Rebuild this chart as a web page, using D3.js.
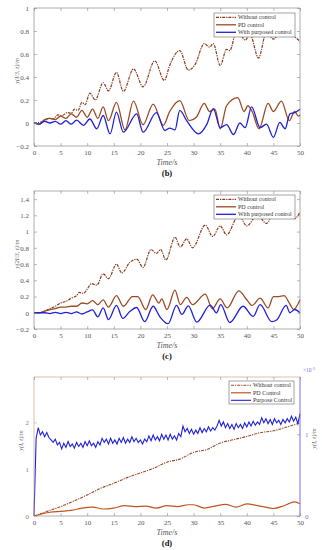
<!DOCTYPE html>
<html>
<head>
<meta charset="utf-8">
<script src="https://cdn.jsdelivr.net/npm/d3@7"></script>
<style>
body { margin: 0; background: #fff; }
text { font-family: "Liberation Serif", "DejaVu Serif", serif; }
</style>
</head>
<body>
<div id="chart"></div>
<script>
"use strict";

var xTicks = [0, 5, 10, 15, 20, 25, 30, 35, 40, 45, 50];

// panel (b)
var bTicksY = [-0.2, 0, 0.2, 0.4, 0.6, 0.8, 1];
var bWithoutT = [0, 1, 2, 2.8, 3.6, 4.5, 5.3, 6.2, 7, 7.6, 8.3, 9, 9.6, 10.5, 11.5, 13, 14, 15.5, 16.8, 18.7, 20.5, 22.7, 24.5, 25.5, 27.4, 29, 30.3, 32, 33, 33.7, 35, 36.2, 36.8, 38.2, 39.7, 40.6, 42.2, 43.7, 45, 46.5, 48, 49, 50];
var bWithoutV = [0, 0.005, 0.02, 0.04, 0.035, 0.07, 0.065, 0.09, 0.085, 0.12, 0.11, 0.18, 0.16, 0.26, 0.2, 0.35, 0.28, 0.44, 0.275, 0.47, 0.315, 0.54, 0.37, 0.5, 0.63, 0.46, 0.51, 0.69, 0.66, 0.69, 0.5, 0.64, 0.63, 0.82, 0.72, 0.77, 0.565, 0.79, 0.73, 0.8, 0.79, 0.75, 0.71];
var bPdT = [0, 1, 2, 3, 4, 5, 6, 7, 8, 9, 10, 11, 12, 13, 14, 15.5, 17.1, 18.7, 20.5, 22.4, 24.3, 25.5, 27.4, 29.2, 30.5, 32, 33, 34, 35, 36.2, 38.3, 39.5, 40.2, 41, 42.3, 44, 45, 46.5, 48, 49, 49.7, 50];
var bPdV = [0, -0.01, 0.03, 0.04, 0.03, 0.06, 0.04, 0.08, 0.05, 0.11, 0.05, 0.12, 0.04, 0.14, 0.02, 0.18, -0.06, 0.19, -0.015, 0.165, -0.02, 0.1, 0.195, 0.02, 0.05, 0.17, 0.1, 0.12, -0.05, 0.15, 0.22, 0.1, 0.15, 0.1, -0.05, 0.17, 0.1, 0.19, 0.02, 0.1, 0.06, 0.07];
var bBlueT = [0, 1, 2, 3, 4, 5, 6, 7, 8, 9.3, 10.5, 11.8, 13, 14.3, 15.5, 16.8, 19.3, 20.5, 23, 24.6, 25.5, 26.5, 27.4, 28.7, 30.9, 32.5, 33.7, 35, 36.2, 37.5, 38.7, 39.7, 40.9, 42.5, 43.7, 45, 46.2, 47.2, 48.1, 49, 50];
var bBlueV = [0, -0.01, 0.015, 0, 0.015, -0.01, 0.02, -0.01, 0.025, -0.02, 0.035, -0.05, 0.065, -0.095, 0.095, -0.08, 0.08, -0.08, 0.09, -0.065, -0.045, -0.06, 0.11, 0.02, -0.095, -0.01, 0.125, -0.04, -0.015, -0.1, 0, -0.04, 0.14, -0.04, -0.01, -0.125, 0.005, -0.05, 0.08, 0.09, 0.12];

// panel (c)
var cTicksY = [-0.2, 0, 0.2, 0.4, 0.6, 0.8, 1, 1.2, 1.4];
var cWithoutT = [0, 1, 2, 3, 4, 5, 6, 7, 8, 8.5, 9.3, 10, 10.8, 11.8, 13, 14, 15.5, 16.5, 18, 19.3, 20.5, 22, 23, 23.8, 24.8, 26.5, 27.5, 28.7, 29.8, 32.2, 33.6, 35, 36.2, 38.5, 40, 42, 43.7, 45, 46.5, 48, 49, 50];
var cWithoutV = [0, 0, 0.02, 0.05, 0.08, 0.12, 0.14, 0.18, 0.21, 0.25, 0.24, 0.29, 0.36, 0.34, 0.48, 0.42, 0.6, 0.49, 0.62, 0.66, 0.56, 0.78, 0.73, 0.78, 0.65, 0.93, 0.81, 0.91, 0.8, 1.08, 0.94, 1.07, 0.96, 1.2, 1.07, 1.2, 1.1, 1.22, 1.2, 1.24, 1.16, 1.24];
var cPdT = [0, 1, 2, 3, 4, 5, 6, 7, 8, 9, 10, 11, 12, 13, 14, 15.5, 16.8, 18.5, 19.5, 21, 22.3, 23.5, 24, 25, 26.5, 27.5, 28.7, 29.8, 32.2, 33.5, 35, 36.3, 38.5, 40, 41, 42.5, 44, 45, 46, 47, 48, 48.8, 50];
var cPdV = [0, 0, 0.02, 0.04, 0.05, 0.07, 0.07, 0.08, 0.08, 0.12, 0.11, 0.15, 0.1, 0.16, 0.07, 0.21, 0.08, 0.2, 0.2, 0.04, 0.22, 0.12, 0.17, 0.04, 0.28, 0.1, 0.19, 0.1, 0.23, 0.05, 0.17, 0.06, 0.27, 0.16, 0.09, 0.18, 0.06, 0.2, 0.2, 0.21, 0.12, 0.04, 0.16];
var cBlueT = [0, 2, 3, 4, 5, 6, 7, 8, 9, 10, 11, 12, 13, 14, 15.5, 16.7, 18, 19.3, 20.8, 22.4, 23.6, 25.2, 26.8, 27.8, 29, 30.6, 33.1, 34.3, 35.1, 36.8, 39.3, 41.2, 42.5, 44.7, 45.6, 47.4, 48.1, 49, 50];
var cBlueV = [0, 0, -0.01, 0.005, -0.01, 0.005, -0.01, 0.01, -0.015, 0.01, 0.035, -0.05, 0.06, -0.085, 0.09, -0.07, 0.015, 0.065, -0.11, 0.08, -0.045, -0.135, 0.09, -0.02, 0.085, -0.115, 0.095, 0, 0.1, -0.12, 0.08, -0.045, 0.1, -0.11, -0.09, 0.09, 0, 0.04, 0];

// panel (d)
var dTicksLeft = [0, 1, 2];
var dTicksRight = [0, 1];
var dWithoutT = [0, 2.5, 5, 7.5, 10, 12.5, 15, 17.5, 20, 22.5, 25, 27.5, 30, 32.5, 35, 37.5, 40, 42.5, 45, 47.5, 50];
var dWithoutV = [0, 0.1, 0.2, 0.32, 0.45, 0.59, 0.7, 0.82, 0.92, 1.02, 1.15, 1.22, 1.36, 1.42, 1.56, 1.63, 1.7, 1.78, 1.82, 1.9, 1.99];
var dPdT = [0, 3, 5, 7, 9, 11, 13, 15, 17, 19, 21, 23, 25, 27, 29, 30, 32, 34, 36, 38, 40, 42, 44, 45, 47, 49, 50];
var dPdV = [0, 0.08, 0.1, 0.12, 0.17, 0.19, 0.15, 0.17, 0.22, 0.2, 0.21, 0.17, 0.22, 0.2, 0.24, 0.24, 0.17, 0.21, 0.25, 0.19, 0.26, 0.22, 0.18, 0.16, 0.22, 0.3, 0.26];
// purpose control, x10^-3 (right axis), sampled every 0.4 s
var dBlueStep = 0.4;
var dBlueV = [0, 0.95, 1.08, 0.99, 1.03, 0.97, 1.02, 0.96, 0.93, 0.90,
  0.94, 0.87, 0.90, 0.82, 0.89, 0.84, 0.91, 0.85, 0.88, 0.83,
  0.90, 0.85, 0.89, 0.84, 0.91, 0.86, 0.92, 0.86, 0.89, 0.84,
  0.91, 0.87, 0.95, 0.90, 0.94, 0.88, 0.95, 0.89, 0.93, 0.88,
  0.95, 0.90, 0.96, 0.89, 0.94, 0.90, 0.97, 0.91, 0.95, 0.90,
  0.93, 0.88, 0.94, 0.91, 0.98, 0.92, 0.99, 0.93, 0.97, 0.92,
  1.00, 0.94, 0.99, 0.93, 1.00, 0.94, 0.98, 0.93, 1.01, 0.97,
  1.10, 1.03, 1.07, 1.01, 1.06, 1.00, 1.05, 1.01, 1.08, 1.02,
  1.07, 1.03, 1.09, 1.04, 1.08, 1.05, 1.10, 1.17, 1.10, 1.15,
  1.08, 1.13, 1.07, 1.12, 1.06, 1.13, 1.08, 1.12, 1.07, 1.14,
  1.09, 1.15, 1.10, 1.16, 1.11, 1.15, 1.12, 1.20, 1.14, 1.19,
  1.13, 1.18, 1.12, 1.19, 1.14, 1.17, 1.12, 1.18, 1.14, 1.19,
  1.15, 1.22, 1.16, 1.21, 1.13, 1.25];

var w = 322, h = 550;
var left = 34, right = 300;

var svg = d3.select("#chart")
            .append("svg")
            .attr("width", w)
            .attr("height", h)
            .style("background", "#fff");

var x = d3.scaleLinear().domain([0, 50]).range([left, right]);

function pairs(ts, vs) {
    return ts.map(function(t, i){ return [t, vs[i]]; });
}

function drawPanel(p) {
    var y = d3.scaleLinear().domain(p.yDomain).range([p.bottom, p.top]);
    var g = svg.append("g");

    // lines
    p.series.forEach(function(s){
        var ys = s.right ? p.yRight : y;
        var line = d3.line()
            .x(function(d){ return x(d[0]); })
            .y(function(d){ return ys(d[1]); })
            .curve(s.smooth ? d3.curveMonotoneX : d3.curveLinear);
        g.append("path")
            .datum(s.data)
            .attr("d", line)
            .attr("fill", "none")
            .attr("stroke", s.color)
            .attr("stroke-width", s.width)
            .attr("stroke-dasharray", s.dash || null);
    });

    // box
    var boxCol = "#8a8a8a";
    g.append("line").attr("x1", left).attr("x2", right).attr("y1", p.bottom).attr("y2", p.bottom)
        .attr("stroke", boxCol).attr("stroke-width", 0.7);
    g.append("line").attr("x1", left).attr("x2", right).attr("y1", p.top).attr("y2", p.top)
        .attr("stroke", p.topColor || boxCol).attr("stroke-width", 0.7);
    g.append("line").attr("x1", left).attr("x2", left).attr("y1", p.top).attr("y2", p.bottom)
        .attr("stroke", p.leftColor || boxCol).attr("stroke-width", 0.7);
    g.append("line").attr("x1", right).attr("x2", right).attr("y1", p.top).attr("y2", p.bottom)
        .attr("stroke", p.rightColor || boxCol).attr("stroke-width", p.rightColor ? 1 : 0.7);

    // x ticks (bottom + top)
    var xb = g.append("g").attr("transform", "translate(0," + p.bottom + ")")
        .call(d3.axisBottom(x).tickValues(xTicks).tickSizeInner(-3).tickSizeOuter(0).tickPadding(4));
    var xt = g.append("g").attr("transform", "translate(0," + p.top + ")")
        .call(d3.axisTop(x).tickValues(xTicks).tickSizeInner(-3).tickSizeOuter(0).tickFormat(""));
    [xb, xt].forEach(function(a){
        a.select(".domain").remove();
        a.selectAll("line").attr("stroke", boxCol).attr("stroke-width", 0.6);
        a.selectAll("text").attr("font-size", 7).attr("fill", "#555")
            .style("font-family", "Liberation Serif, serif");
    });

    // y ticks left
    var yl = g.append("g").attr("transform", "translate(" + left + ",0)")
        .call(d3.axisLeft(y).tickValues(p.yTicks).tickSizeInner(-3).tickSizeOuter(0).tickPadding(5)
            .tickFormat(function(d){ return d3.format("~g")(d); }));
    yl.select(".domain").remove();
    yl.selectAll("line").attr("stroke", p.leftColor || boxCol).attr("stroke-width", 0.6);
    yl.selectAll("text").attr("font-size", 7).attr("fill", p.leftText || "#555")
        .style("font-family", "Liberation Serif, serif");

    if (p.yRight) {
        var yr = g.append("g").attr("transform", "translate(" + right + ",0)")
            .call(d3.axisRight(p.yRight).tickValues(dTicksRight).tickSizeInner(-3).tickSizeOuter(0).tickPadding(5)
                .tickFormat(d3.format("d")));
        yr.select(".domain").remove();
        yr.selectAll("line").attr("stroke", p.rightColor).attr("stroke-width", 0.6);
        yr.selectAll("text").attr("font-size", 7).attr("fill", p.rightColor)
            .style("font-family", "Liberation Serif, serif");
        g.append("text").attr("x", 303).attr("y", p.top - 5)
            .attr("font-size", 5.5).attr("fill", p.rightColor)
            .text("×10").append("tspan").attr("dy", -2.5).attr("font-size", 4.5).text("-3");
        g.append("text")
            .attr("transform", "translate(316," + ((p.top + p.bottom) / 2 - 8) + ") rotate(-90)")
            .attr("text-anchor", "middle").attr("font-size", 6.5).attr("font-style", "italic")
            .attr("fill", "#666").text(p.yLabel);
    } else {
        var yrt = g.append("g").attr("transform", "translate(" + right + ",0)")
            .call(d3.axisRight(y).tickValues(p.yTicks).tickSizeInner(-3).tickSizeOuter(0).tickFormat(""));
        yrt.select(".domain").remove();
        yrt.selectAll("line").attr("stroke", boxCol).attr("stroke-width", 0.6);
    }

    // y label
    g.append("text")
        .attr("transform", "translate(" + p.yLabelX + "," + ((p.top + p.bottom) / 2 - 6) + ") rotate(-90)")
        .attr("text-anchor", "middle").attr("font-size", 6.5).attr("font-style", "italic")
        .attr("fill", "#666").text(p.yLabel);

    // x label and caption
    g.append("text").attr("x", 167).attr("y", p.bottom + 19)
        .attr("text-anchor", "middle").attr("font-size", 8).attr("font-style", "italic")
        .attr("fill", "#555").text("Time/s");
    g.append("text").attr("x", 167).attr("y", p.bottom + 30)
        .attr("text-anchor", "middle").attr("font-size", 8.5).attr("font-weight", "bold")
        .attr("fill", "#111").text(p.caption);

    // legend
    var L = p.legend;
    g.append("rect").attr("x", L.x).attr("y", L.y).attr("width", L.w).attr("height", L.h)
        .attr("fill", "#fff").attr("stroke", "#666").attr("stroke-width", 0.6);
    p.series.forEach(function(s, i){
        var ry = L.y + 4.3 + i * 7.5;
        g.append("line").attr("x1", L.x + 2).attr("x2", L.x + 22).attr("y1", ry).attr("y2", ry)
            .attr("stroke", s.color).attr("stroke-width", s.width)
            .attr("stroke-dasharray", s.dash || null);
        g.append("text").attr("x", L.x + 24).attr("y", ry + 2)
            .attr("font-size", 6).attr("fill", "#333").text(s.name);
    });
}

var brownDash = "#8a3a1c";
var brownPd = "#9c4a24";
var blue = "#2121d6";
var dashDot = "3,1,1.2,1";

drawPanel({
    top: 8, bottom: 146, yDomain: [-0.2, 1], yTicks: bTicksY,
    yLabel: "y(l/3, t)/m", yLabelX: 19, caption: "(b)",
    legend: {x: 214, y: 13, w: 81, h: 24},
    series: [
        {name: "Without control", data: pairs(bWithoutT, bWithoutV), color: brownDash, width: 1.2, dash: dashDot, smooth: true},
        {name: "PD control", data: pairs(bPdT, bPdV), color: brownPd, width: 1.3, smooth: true},
        {name: "With purposed control", data: pairs(bBlueT, bBlueV), color: blue, width: 1.3, smooth: true}
    ]
});

drawPanel({
    top: 191, bottom: 329, yDomain: [-0.2, 1.5], yTicks: cTicksY,
    yLabel: "y(2l/3, t)/m", yLabelX: 19, caption: "(c)",
    legend: {x: 214, y: 195, w: 81, h: 24},
    series: [
        {name: "Without control", data: pairs(cWithoutT, cWithoutV), color: brownDash, width: 1.2, dash: dashDot, smooth: true},
        {name: "PD control", data: pairs(cPdT, cPdV), color: brownPd, width: 1.3, smooth: true},
        {name: "With purposed control", data: pairs(cBlueT, cBlueV), color: blue, width: 1.3, smooth: true}
    ]
});

var dRight = d3.scaleLinear().domain([0, 1.7]).range([516, 377]);
drawPanel({
    top: 377, bottom: 516, yDomain: [0, 2.97], yTicks: dTicksLeft,
    yLabel: "y(l, t)/m", yLabelX: 23, caption: "(d)",
    leftColor: "#c9a58a", leftText: "#a07a60", topColor: "#c9a58a", rightColor: "#7a6fe0",
    yRight: dRight,
    legend: {x: 229, y: 381, w: 65, h: 23},
    series: [
        {name: "Without control", data: pairs(dWithoutT, dWithoutV), color: "#9a4a22", width: 1.1, dash: dashDot, smooth: true},
        {name: "PD Control", data: pairs(dPdT, dPdV), color: "#c0541f", width: 1.2, smooth: true},
        {name: "Purpose Control", data: dBlueV.map(function(v, i){ return [i * dBlueStep, v]; }), color: blue, width: 1.1, right: true}
    ]
});
</script>
</body>
</html>
